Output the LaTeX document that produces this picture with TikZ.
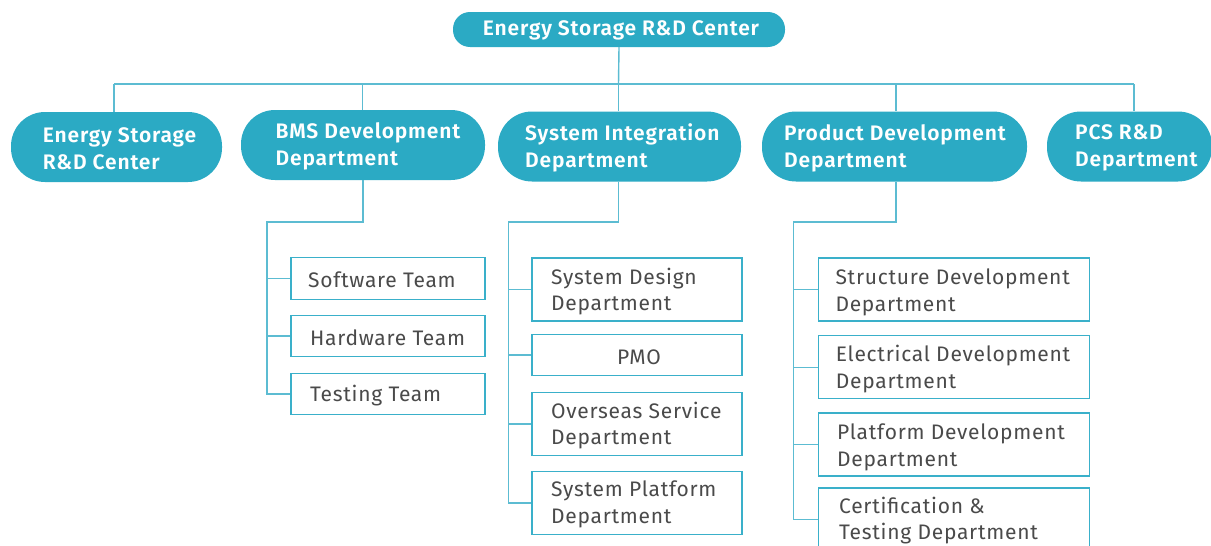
\documentclass[tikz,border=0pt]{standalone}
\usepackage{fontspec}
\setmainfont{Fira Sans}[BoldFont={Fira Sans SemiBold}]
\newfontfamily\pillfont{Fira Sans SemiBold}[LetterSpace=4]
\newfontfamily\subfont{Fira Sans}[LetterSpace=3.5]
\definecolor{pillc}{RGB}{43,170,196}
\definecolor{boxc}{RGB}{58,176,202}
\definecolor{linec}{RGB}{92,188,210}
\definecolor{txtc}{RGB}{74,74,74}
\begin{document}
\begin{tikzpicture}[x=1pt,y=-1pt,
  pill/.style={fill=pillc, draw=none, rounded corners=34pt, minimum height=70pt, inner sep=0pt},
  ptext/.style={text=white, font=\pillfont\fontsize{21}{27}\selectfont, align=left, inner sep=0pt, anchor=west, yshift=-2pt},
  sbox/.style={draw=boxc, line width=1.4pt, minimum height=63pt, inner sep=0pt, fill=white},
  stext/.style={text=txtc, font=\subfont\fontsize{21}{26.5}\selectfont, align=left, inner sep=0pt, anchor=west, yshift=-2pt},
  conn/.style={draw=linec, line width=1.4pt}]
\useasboundingbox (0,0) rectangle (1211,546);
\fill[white] (0,0) rectangle (1211,546);

\coordinate (bus1) at (114,84);
\coordinate (bus2) at (362.6,84);
\coordinate (bus3) at (618.5,84);
\coordinate (bus4) at (896,84);
\coordinate (bus5) at (1134,84);

% top
\node[pill, minimum width=332pt, minimum height=35pt, rounded corners=17pt] (top) at (619,29.5) {};
\node[ptext, anchor=center] (topt) at (621,28.5) {Energy Storage R\&D Center};

% level 2 pills
\node[pill, minimum width=211pt] (p1) at (116.5,147) {};
\node[pill, minimum width=244pt] (p2) at (363,145) {};
\node[pill, minimum width=243pt] (p3) at (619.5,146.5) {};
\node[pill, minimum width=265pt] (p4) at (894.5,146.5) {};
\node[pill, minimum width=165pt] (p5) at (1129.5,146.5) {};
\node[ptext] (p1t) at (42.7,146.5) {Energy Storage\\R\&D Center};
\node[ptext] (p2t) at (275.5,144) {BMS Development\\Department};
\node[ptext] (p3t) at (525,146) {System Integration\\Department};
\node[ptext] (p4t) at (784,146) {Product Development\\Department};
\node[ptext] (p5t) at (1075,146) {PCS R\&D\\Department};

\draw[conn] (top.south) -- (bus3);
\draw[conn] (bus1) -- (bus5);
\draw[conn] (bus1) -- (bus1 |- p1.north);
\draw[conn] (bus2) -- (bus2 |- p2.north);
\draw[conn] (bus3) -- (bus3 |- p3.north);
\draw[conn] (bus4) -- (bus4 |- p4.north);
\draw[conn] (bus5) -- (bus5 |- p5.north);

% BMS sub boxes
\node[sbox, minimum width=194pt, minimum height=41.5pt] (b1) at (388,278.5) {};
\node[sbox, minimum width=194pt, minimum height=41.5pt] (b2) at (388,336) {};
\node[sbox, minimum width=194pt, minimum height=41.5pt] (b3) at (388,394) {};
\node[stext] (b1t) at (308,278) {Software Team};
\node[stext] (b2t) at (310,335.5) {Hardware Team};
\node[stext] (b3t) at (310,393.5) {Testing Team};
\coordinate (bb) at (267,222);
\draw[conn] (p2.south) |- (bb) -- (bb |- b3.west) -- (b3.west);
\draw[conn] (bb |- b1.west) -- (b1.west);
\draw[conn] (bb |- b2.west) -- (b2.west);

% SI sub boxes
\node[sbox, minimum width=210pt] (s1) at (637,289.5) {};
\node[sbox, minimum width=210pt, minimum height=41.5pt] (s2) at (637,355) {};
\node[sbox, minimum width=210pt] (s3) at (637,424) {};
\node[sbox, minimum width=210pt] (s4) at (637,503) {};
\node[stext] (s1t) at (551,289.5) {System Design\\Department};
\node[stext, anchor=center] (s2t) at (639,355) {PMO};
\node[stext] (s3t) at (551,423.5) {Overseas Service\\Department};
\node[stext] (s4t) at (551,502.5) {System Platform\\Department};
\coordinate (sb) at (508.3,222);
\draw[conn] (p3.south -| bus3) |- (sb) -- (sb |- s4.west) -- (s4.west);
\draw[conn] (sb |- s1.west) -- (s1.west);
\draw[conn] (sb |- s2.west) -- (s2.west);
\draw[conn] (sb |- s3.west) -- (s3.west);

% PD sub boxes
\node[sbox, minimum width=271pt] (d1) at (954.2,289.3) {};
\node[sbox, minimum width=271pt] (d2) at (954.2,367.2) {};
\node[sbox, minimum width=271pt] (d3) at (954.2,444.4) {};
\node[sbox, minimum width=271pt] (d4) at (954.2,519.5) {};
\node[stext] (d1t) at (835.3,290.5) {Structure Development\\Department};
\node[stext] (d2t) at (835.7,367) {Electrical Development\\Department};
\node[stext] (d3t) at (837,445.5) {Platform Development\\Department};
\node[stext] (d4t) at (839,518.5) {Certification \&\\Testing Department};
\coordinate (db) at (793.3,222);
\draw[conn] (p4.south -| bus4) |- (db) -- (db |- d4.west) -- (d4.west);
\draw[conn] (db |- d1.west) -- (d1.west);
\draw[conn] (db |- d2.west) -- (d2.west);
\draw[conn] (db |- d3.west) -- (d3.west);
\end{tikzpicture}
\end{document}
